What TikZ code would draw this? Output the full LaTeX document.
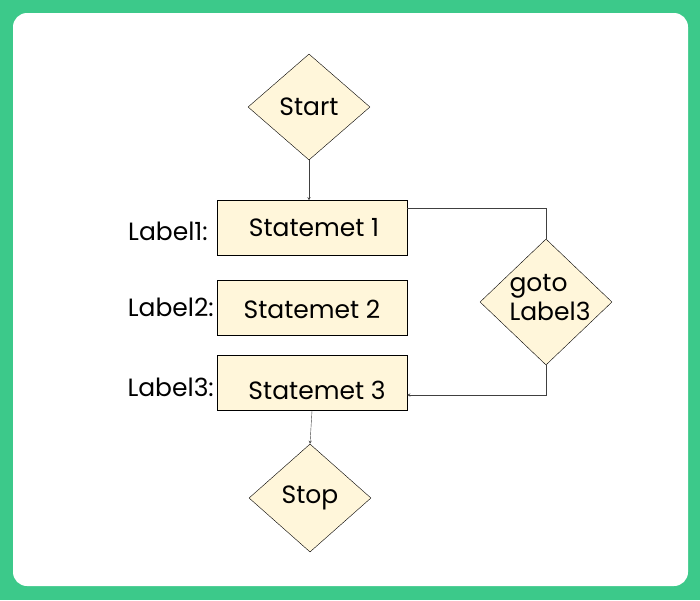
\documentclass[tikz,border=0pt]{standalone}
\usepackage{fontspec}
\setmainfont{Poppins}
\usetikzlibrary{shapes.geometric}
\definecolor{frame}{HTML}{3CC98A}
\definecolor{fillbox}{HTML}{FFF6DA}
\begin{document}
\begin{tikzpicture}[x=1pt,y=-1pt,
   font=\fontsize{25}{29}\selectfont,
   dia/.style={draw,diamond,fill=fillbox,aspect=1.15,inner sep=0pt,minimum width=122pt,minimum height=106pt},
   stmt/.style={draw,fill=fillbox,minimum width=190pt,minimum height=55pt,inner sep=0pt},
   lab/.style={anchor=east,inner sep=0pt},
   to/.style={->,thin,>=stealth,draw=black!75}]
\fill[frame] (0,0) rectangle (700,600);
\fill[white,rounded corners=14pt] (13,13) rectangle (688,586);
\node[dia] (start) at (309,107) {};
\node at (309,107) {Start};
\node[stmt] (s1) at (312,228) {};
\node at (314,228) {Statemet 1};
\node[stmt] (s2) at (312,308) {};
\node at (312,309) {Statemet 2};
\node[stmt] (s3) at (312,383) {};
\node at (317,390) {Statemet 3};
\node[dia,minimum height=108pt] (stop) at (310,498) {};
\node at (310,498) {Stop};
\node[dia,minimum width=132pt,minimum height=126pt] (goto) at (546,302) {};
\node[align=left] at (550,298) {goto\\ Label3};
\node[lab] (l1) at (208,231) {Label1:};
\node[lab] (l2) at (214,307) {Label2:};
\node[lab] (l3) at (214,387) {Label3:};
\draw[to] (start.south) -- (s1.north -| start.south);
\draw[thin,draw=black!75] (s1.east |- 0,208) -| (goto.north);
\draw[to] (goto.south) |- (s3.east |- 0,395);
\draw[to] (s3.south) -- (stop.north);
\end{tikzpicture}
\end{document}
